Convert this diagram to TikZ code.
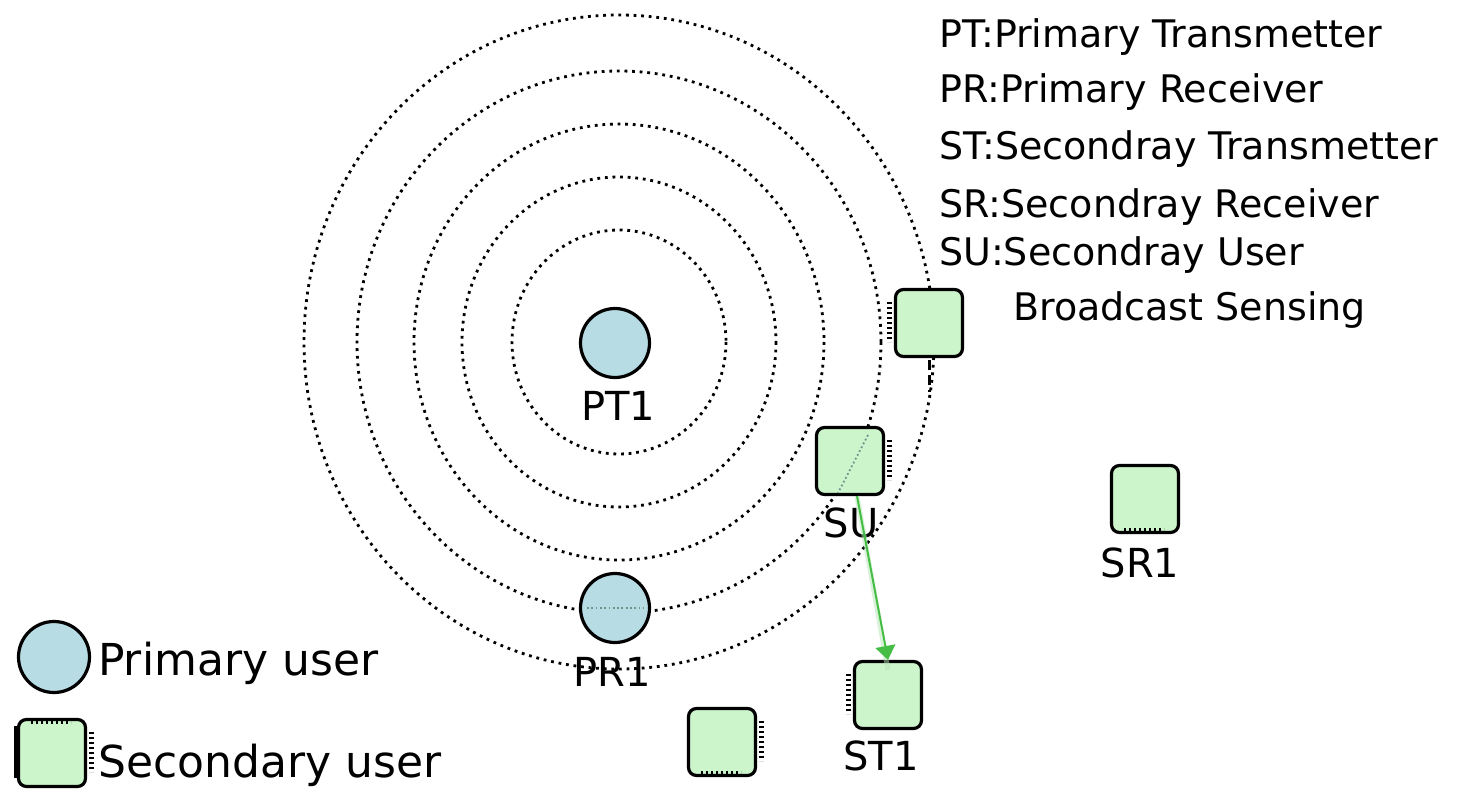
\documentclass[tikz,border=0pt]{standalone}
\usepackage{fontspec}
\setmainfont{DejaVu Sans}
\usetikzlibrary{arrows.meta}
\definecolor{pufill}{RGB}{184,220,228}
\definecolor{sufill}{RGB}{204,245,204}
\definecolor{arrowgreen}{RGB}{70,190,70}
\definecolor{faintline}{RGB}{110,150,140}
\begin{document}
\begin{tikzpicture}[x=1pt,y=-1pt,
  ring/.style={draw=black, line width=2.8pt, dash pattern=on 2.8pt off 4.8pt},
  pu/.style={circle, draw=black, line width=3.2pt, fill=pufill, minimum size=69pt, inner sep=0pt},
  su/.style={rectangle, rounded corners=8pt, draw=black, line width=3.2pt, fill=sufill, minimum width=67pt, minimum height=67pt, inner sep=0pt},
  pins/.style={draw=black, line width=5pt, dash pattern=on 2pt off 3pt},
  lbl/.style={font=\fontsize{40}{40}\selectfont, anchor=base, inner sep=0pt},
  key/.style={font=\fontsize{38}{38}\selectfont, anchor=base west, inner sep=0pt},
  leg/.style={font=\fontsize{44}{44}\selectfont, anchor=base west, inner sep=0pt}]
\useasboundingbox (0,0) rectangle (1460,789);
\clip (0,0) rectangle (1460,789);
\fill[white] (0,0) rectangle (1460,789);

% rings around PT1
\coordinate (ctr) at (619,342);
\draw[ring] (ctr) ellipse [x radius=107, y radius=112];
\draw[ring] (ctr) ellipse [x radius=157, y radius=165];
\draw[ring] (ctr) ellipse [x radius=205, y radius=218];
\draw[ring] (ctr) ellipse [x radius=262, y radius=271];
\draw[ring] (ctr) ellipse [x radius=315, y radius=327];

% primary users
\node[pu] (PT1) at (615,343) {};
\node[lbl] (PT1l) at (618,420) {PT1};
\node[pu] (PR1) at (615,608) {};
\node[lbl] (PR1l) at (612,686) {PR1};
\draw[faintline, line width=1.8pt, dash pattern=on 1.8pt off 2.5pt] ([xshift=-28pt]PR1.center) -- ([xshift=28pt]PR1.center);

% secondary users
\node[su] (TR) at (929,323) {};
\draw[pins] ([xshift=-4pt]TR.north west) ++(0,14) -- ++(0,40);
\draw[black, line width=3pt, dash pattern=on 10pt off 5pt] (TR.south) ++(0,2) -- ++(0,32);

\node[su] (SU) at (850,461) {};
\draw[pins] ([xshift=4pt]SU.north east) ++(0,14) -- ++(0,40);
\draw[faintline, line width=1.8pt, dash pattern=on 1.8pt off 2.5pt] (868,435) -- (838,493);
\node[lbl] (SUl) at (851,537) {SU};

\node[su] (SR1) at (1145,499) {};
\draw[pins] ([yshift=4pt]SR1.south west) ++(14,0) -- ++(40,0);
\node[lbl] (SR1l) at (1140,577) {SR1};

\node[su] (ST1) at (888,695) {};
\draw[pins] ([xshift=-4pt]ST1.north west) ++(0,14) -- ++(0,40);
\node[lbl] (ST1l) at (881,770) {ST1};

\node[su] (SX) at (722,742) {};
\draw[pins] ([xshift=4pt]SX.north east) ++(0,14) -- ++(0,40);
\draw[pins] ([yshift=4pt]SX.south west) ++(14,0) -- ++(40,0);

% sensing link
\draw[arrowgreen!40, line width=5pt, opacity=0.5] ([xshift=7pt]SU.south) -- ([yshift=-10pt]ST1.north);
\draw[arrowgreen, line width=2pt, -{Triangle[width=20pt,length=14pt]}] ([xshift=7pt]SU.south) -- (ST1.north);

% legend (bottom left)
\node[pu, minimum size=71pt] (LP) at (54,657) {};
\node[leg] (LPt) at (98,675) {Primary user};
\node[su] (LS) at (52,753) {};
\draw[pins] ([yshift=-4pt]LS.north west) ++(14,0) -- ++(40,0);
\draw[pins] ([xshift=4pt]LS.north east) ++(0,14) -- ++(0,40);
\draw[black, line width=5pt] (LS.north west) ++(0,8) -- ++(0,52);
\node[leg] (LSt) at (98,777) {Secondary user};

% abbreviations (top right)
\node[key] (k1) at (939,48) {PT:Primary Transmetter};
\node[key] (k2) at (939,103) {PR:Primary Receiver};
\node[key] (k3) at (939,160) {ST:Secondray Transmetter};
\node[key] (k4) at (939,217) {SR:Secondray Receiver};
\node[key] (k5) at (939,265) {SU:Secondray User};
\node[key] (k6) at (1013,320) {Broadcast Sensing};
\end{tikzpicture}
\end{document}
